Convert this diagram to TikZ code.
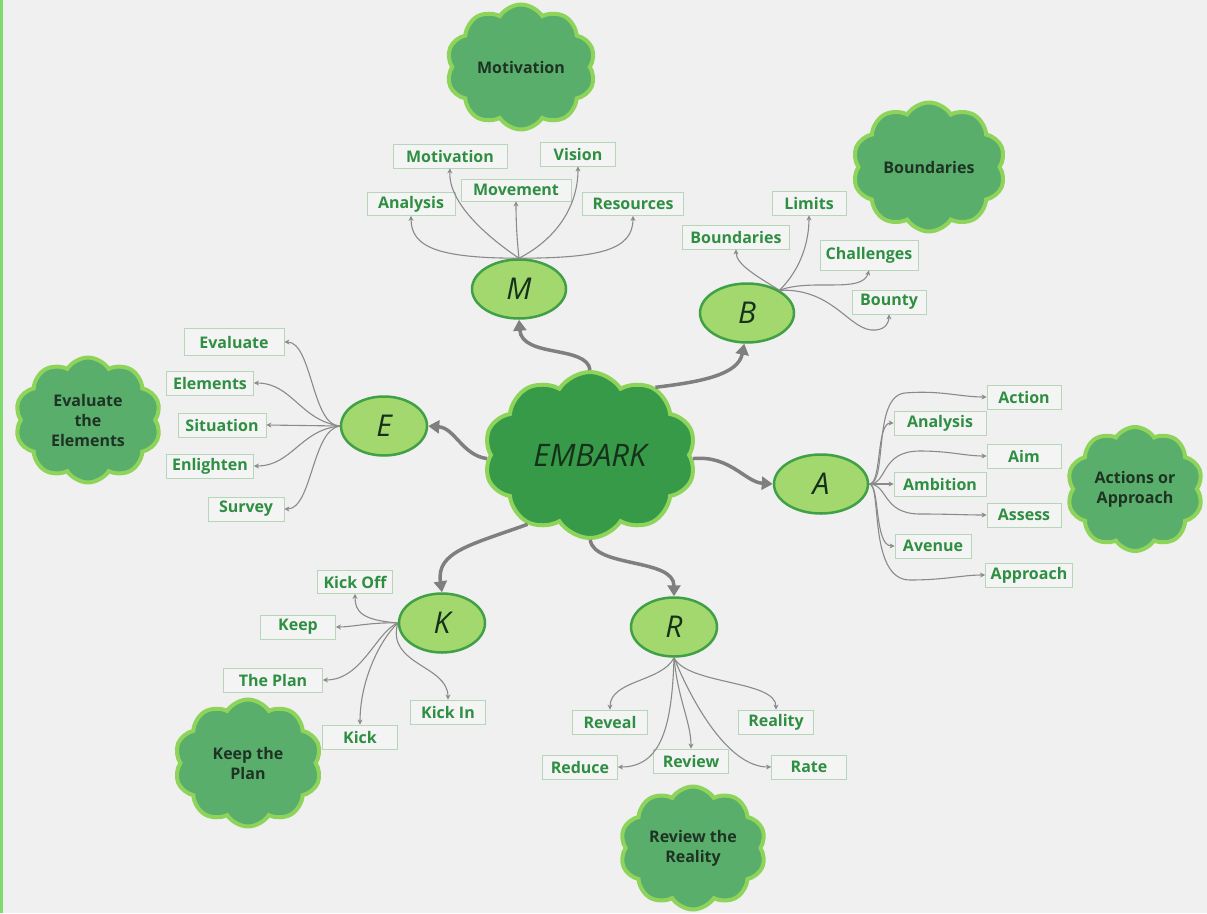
\documentclass[tikz,border=0pt]{standalone}
\usepackage{fontspec}
\setmainfont{Open Sans}
\usetikzlibrary{shapes.symbols,shapes.geometric,arrows.meta}
\definecolor{bg}{HTML}{F0F0F0}
\definecolor{leftbar}{HTML}{7EDC6E}
\definecolor{cloudfill}{HTML}{5AAE6B}
\definecolor{cloudborder}{HTML}{8ED45A}
\definecolor{centerfill}{HTML}{379A48}
\definecolor{cloudtext}{HTML}{1E3324}
\definecolor{ellfill}{HTML}{A2D86E}
\definecolor{ellborder}{HTML}{3FA046}
\definecolor{lettertext}{HTML}{16301A}
\definecolor{lblborder}{HTML}{B5D6B8}
\definecolor{lblfill}{HTML}{F4F4F4}
\definecolor{lbltext}{HTML}{2E8F42}
\definecolor{arrgray}{HTML}{7F7F7F}
\definecolor{thingray}{HTML}{8A8A8A}
\begin{document}
\begin{tikzpicture}[x=1pt,y=-1pt,
  bigcloud/.style={cloud, cloud puffs=10, cloud puff arc=115, cloud ignores aspect,
    draw=cloudborder, line width=4pt, fill=cloudfill, inner sep=0pt,
    font=\bfseries\fontsize{16}{20}\selectfont, text=cloudtext, align=center},
  ellnode/.style={ellipse, draw=ellborder, line width=2.5pt, fill=ellfill,
    minimum width=94, minimum height=59, inner sep=0pt,
    font=\itshape\fontsize{30}{30}\selectfont, text=lettertext},
  lbl/.style={draw=lblborder, line width=0.8pt, fill=lblfill, minimum height=24,
    inner sep=0pt, font=\bfseries\fontsize{16}{16}\selectfont, text=lbltext},
  bigarrow/.style={draw=arrgray, line width=3.5pt, -{Triangle[length=11pt,width=13pt]}},
  thinarrow/.style={draw=thingray, line width=1.1pt, -{Stealth[length=5pt,width=5pt]}}
]
\fill[bg] (0,0) rectangle (1207,913);
\useasboundingbox (0,0) rectangle (1207,913);
\fill[leftbar] (0,0) rectangle (2.5,913);

% outer clouds
\node[bigcloud, minimum width=149, minimum height=125] (cM) at (521,67) {Motivation};
\node[bigcloud, minimum width=153, minimum height=129] (cB) at (929,167) {Boundaries};
\node[bigcloud, minimum width=136, minimum height=124] (cA) at (1135,489) {Actions or\\Approach};
\node[bigcloud, minimum width=146, minimum height=125] (cE) at (88,420) {Evaluate\\the\\Elements};
\node[bigcloud, minimum width=147, minimum height=127] (cK) at (248,763) {Keep the\\Plan};
\node[bigcloud, minimum width=146, minimum height=123] (cR) at (693,848) {Review the\\Reality};

% central cloud
\node[bigcloud, fill=centerfill, minimum width=212, minimum height=166,
  font=\itshape\fontsize{31}{31}\selectfont, text=lettertext] (embark) at (590,455) {EMBARK};

% letter ellipses
\node[ellnode] (M) at (519,289) {M};
\node[ellnode] (B) at (747,313) {B};
\node[ellnode] (A) at (821,484) {A};
\node[ellnode, minimum width=86] (E) at (384,426) {E};
\node[ellnode, minimum width=86] (K) at (442,623) {K};
\node[ellnode, minimum width=86] (R) at (674,627) {R};

% thick arrows
\draw[bigarrow] (embark.90) .. controls (587,345) and (522,358) .. (M.south);
\draw[bigarrow] (embark.46) .. controls (700,382) and (738,375) .. (B.265);
\draw[bigarrow] (embark.-2) .. controls (730,455) and (745,482) .. (A.west);
\draw[bigarrow] (embark.182) .. controls (462,455) and (455,428) .. (E.east);
\draw[bigarrow] (embark.228) .. controls (470,545) and (436,552) .. (K.north);
\draw[bigarrow] (embark.270) .. controls (595,568) and (674,558) .. (R.north);

% M labels
\node[lbl, minimum width=114] (mMotivation) at (450,156) {Motivation};
\node[lbl, minimum width=75] (mVision) at (578,154) {Vision};
\node[lbl, minimum width=110, minimum height=22] (mMovement) at (516,190) {Movement};
\node[lbl, minimum width=88, minimum height=23] (mAnalysis) at (411,204) {Analysis};
\node[lbl, minimum width=101, minimum height=23] (mResources) at (633,204) {Resources};
\draw[thinarrow] (M.north) .. controls (440,258) and (411,248) .. (mAnalysis.south);
\draw[thinarrow] (M.north) .. controls (492,240) and (448,205) .. (mMotivation.south);
\draw[thinarrow] (M.north) .. controls (517,240) and (516,222) .. (mMovement.south);
\draw[thinarrow] (M.north) .. controls (558,238) and (578,205) .. (mVision.south);
\draw[thinarrow] (M.north) .. controls (600,258) and (633,250) .. (mResources.south);

% B labels
\node[lbl, minimum width=74] (bLimits) at (809,203) {Limits};
\node[lbl, minimum width=107] (bBoundaries) at (736,237) {Boundaries};
\node[lbl, minimum width=98, minimum height=30] (bChallenges) at (869,255) {Challenges};
\node[lbl, minimum width=74] (bBounty) at (889,302) {Bounty};
\coordinate (bstart) at (B.35);
\draw[thinarrow] (bstart) .. controls (760,278) and (736,265) .. (bBoundaries.south);
\draw[thinarrow] (bstart) .. controls (802,268) and (809,240) .. (bLimits.south);
\draw[thinarrow] (bstart) .. controls (812,278) and (862,294) .. (bChallenges.south);
\draw[thinarrow] (bstart) .. controls (835,288) and (850,333) .. (876,330) .. controls (886,329) and (889,322) .. (bBounty.south);

% A labels
\node[lbl, minimum width=74] (aAction) at (1024,397) {Action};
\node[lbl, minimum width=92] (aAnalysis) at (940,423) {Analysis};
\node[lbl, minimum width=74] (aAim) at (1024,456) {Aim};
\node[lbl, minimum width=92] (aAmbition) at (940,484) {Ambition};
\node[lbl, minimum width=74] (aAssess) at (1024,515) {Assess};
\node[lbl, minimum width=76] (aAvenue) at (933,546) {Avenue};
\node[lbl, minimum width=87] (aApproach) at (1029,575) {Approach};
\draw[thinarrow] (A.east) .. controls (888,484) and (872,396) .. (905,393) .. controls (940,390) and (960,397) .. (aAction.west);
\draw[thinarrow] (A.east) .. controls (882,484) and (876,423) .. (aAnalysis.west);
\draw[thinarrow] (A.east) .. controls (888,484) and (880,451) .. (920,451) .. controls (950,451) and (965,456) .. (aAim.west);
\draw[thinarrow] (A.east) -- (aAmbition.west);
\draw[thinarrow] (A.east) .. controls (888,484) and (882,514) .. (920,514) .. controls (950,514) and (965,515) .. (aAssess.west);
\draw[thinarrow] (A.east) .. controls (880,484) and (874,546) .. (aAvenue.west);
\draw[thinarrow] (A.east) .. controls (882,484) and (868,580) .. (910,580) .. controls (945,580) and (962,575) .. (aApproach.west);

% E labels
\node[lbl, minimum width=100, minimum height=27] (eEvaluate) at (234,342) {Evaluate};
\node[lbl, minimum width=87] (eElements) at (210,383) {Elements};
\node[lbl, minimum width=88] (eSituation) at (222,425) {Situation};
\node[lbl, minimum width=87] (eEnlighten) at (210,466) {Enlighten};
\node[lbl, minimum width=76] (eSurvey) at (246,509) {Survey};
\draw[thinarrow] (E.west) .. controls (312,426) and (312,342) .. (eEvaluate.east);
\draw[thinarrow] (E.west) .. controls (300,420) and (292,383) .. (eElements.east);
\draw[thinarrow] (E.west) -- (eSituation.east);
\draw[thinarrow] (E.west) .. controls (300,430) and (292,466) .. (eEnlighten.east);
\draw[thinarrow] (E.west) .. controls (312,430) and (312,509) .. (eSurvey.east);

% K labels
\node[lbl, minimum width=75, minimum height=23] (kKickOff) at (355,582) {Kick Off};
\node[lbl, minimum width=75] (kKeep) at (298,627) {Keep};
\node[lbl, minimum width=99] (kThePlan) at (273,680) {The Plan};
\node[lbl, minimum width=75] (kKickIn) at (448,712) {Kick In};
\node[lbl, minimum width=75] (kKick) at (360,737) {Kick};
\coordinate (kstart) at (K.west);
\draw[thinarrow] (kstart) .. controls (362,620) and (355,612) .. (kKickOff.south);
\draw[thinarrow] (kstart) .. controls (372,622) and (352,627) .. (kKeep.east);
\draw[thinarrow] (kstart) .. controls (376,632) and (362,680) .. (kThePlan.east);
\draw[thinarrow] (kstart) .. controls (380,640) and (360,680) .. (kKick.north);
\draw[thinarrow] (kstart) .. controls (386,665) and (448,665) .. (kKickIn.north);

% R labels
\node[lbl, minimum width=75] (rReveal) at (610,722) {Reveal};
\node[lbl, minimum width=75] (rReality) at (776,722) {Reality};
\node[lbl, minimum width=75] (rReduce) at (580,767) {Reduce};
\node[lbl, minimum width=75] (rReview) at (691,761) {Review};
\node[lbl, minimum width=75] (rRate) at (809,767) {Rate};
\draw[thinarrow] (R.south) .. controls (662,682) and (610,680) .. (rReveal.north);
\draw[thinarrow] (R.south) .. controls (688,685) and (776,680) .. (rReality.north);
\draw[thinarrow] (R.south) .. controls (672,725) and (662,767) .. (rReduce.east);
\draw[thinarrow] (R.south) .. controls (678,700) and (691,722) .. (rReview.north);
\draw[thinarrow] (R.south) .. controls (692,702) and (728,767) .. (rRate.west);
\end{tikzpicture}
\end{document}
